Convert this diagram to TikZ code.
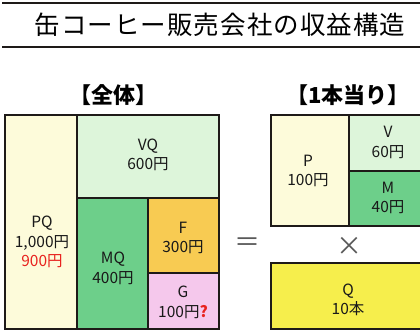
\documentclass[tikz,border=0pt]{standalone}
\usepackage{fontspec}
\setmainfont{Noto Sans CJK JP}
\newfontfamily\titlefont[LetterSpace=4]{Noto Sans CJK JP}
\newfontfamily\jpfont{Noto Sans CJK JP}
\definecolor{linec}{HTML}{1E1A18}
\definecolor{paley}{HTML}{FDFBDA}
\definecolor{paleg}{HTML}{DDF5DA}
\definecolor{midg}{HTML}{6DCF8A}
\definecolor{orng}{HTML}{F8CB52}
\definecolor{pnk}{HTML}{F5C8EC}
\definecolor{yel}{HTML}{F6EE4C}
\definecolor{redt}{HTML}{E8221E}
\begin{document}
\begin{tikzpicture}[x=1pt,y=-1pt,
  box/.style={draw=linec,line width=1.6pt},
  lbl/.style={font=\jpfont\fontsize{15.5}{19.5}\selectfont,align=center,inner sep=0pt,text=black!90},
  hdr/.style={font=\jpfont\bfseries\fontsize{22}{22}\selectfont,inner sep=0pt},
  rule/.style={draw=linec,line width=1.8pt}]
\useasboundingbox (0,0) rectangle (420,331);
% title
\coordinate (r1a) at (2,3); \coordinate (r1b) at (422,3);
\coordinate (r2a) at (2,47); \coordinate (r2b) at (422,47);
\draw[rule] (r1a) -- (r1b);
\draw[rule] (r2a) -- (r2b);
\node[font=\titlefont\fontsize{25.5}{25.5}\selectfont,inner sep=0pt] (title) at (220,25) {缶コーヒー販売会社の収益構造};
% headers
\node[hdr] (h1) at (113,95) {【全体】};
\node[hdr] (h2) at (348,95) {【1本当り】};
% left block
\path[box,fill=paley] (5,115) rectangle (77,329) node[pos=.5,inner sep=0pt] (pq) {};
\path[box,fill=paleg] (77,115) rectangle (219,198) node[pos=.5,inner sep=0pt] (vq) {};
\path[box,fill=midg] (77,198) rectangle (148,329) node[pos=.5,inner sep=0pt] (mq) {};
\path[box,fill=orng] (148,198) rectangle (219,273) node[pos=.5,inner sep=0pt] (f) {};
\path[box,fill=pnk] (148,273) rectangle (219,329) node[pos=.5,inner sep=0pt] (g) {};
\node[lbl] (pqt) at (42,242) {PQ\\1,000円\\\textcolor{redt}{900円}};
\node[lbl] (vqt) at (148,155) {VQ\\600円};
\node[lbl] (mqt) at (113,268.5) {MQ\\400円};
\node[lbl] (ft) at (183,238) {F\\300円};
\node[lbl] (gt) at (183,302.5) {G\\100円\textcolor{redt}{\textbf{?}}};
% operators
\node[font=\jpfont\fontsize{26}{26}\selectfont,inner sep=0pt,text=black!65] (eq) at (247,245) {＝};
\node[font=\jpfont\fontsize{26}{26}\selectfont,inner sep=0pt,text=black!65] (times) at (349,246) {×};
% right block
\path[box,fill=paley] (271,115) rectangle (349,226) node[pos=.5,inner sep=0pt] (p) {};
\path[box,fill=paleg] (349,115) rectangle (423,171) node[pos=.5,inner sep=0pt] (v) {};
\path[box,fill=midg] (349,171) rectangle (423,226) node[pos=.5,inner sep=0pt] (m) {};
\path[box,fill=yel] (271,263) rectangle (423,329) node[pos=.5,inner sep=0pt] (q) {};
\node[lbl] (pt) at (308,171) {P\\100円};
\node[lbl] (vt) at (388,142.5) {V\\60円};
\node[lbl] (mt) at (388,198) {M\\40円};
\node[lbl] (qt) at (348,300) {Q\\10本};
\end{tikzpicture}
\end{document}
